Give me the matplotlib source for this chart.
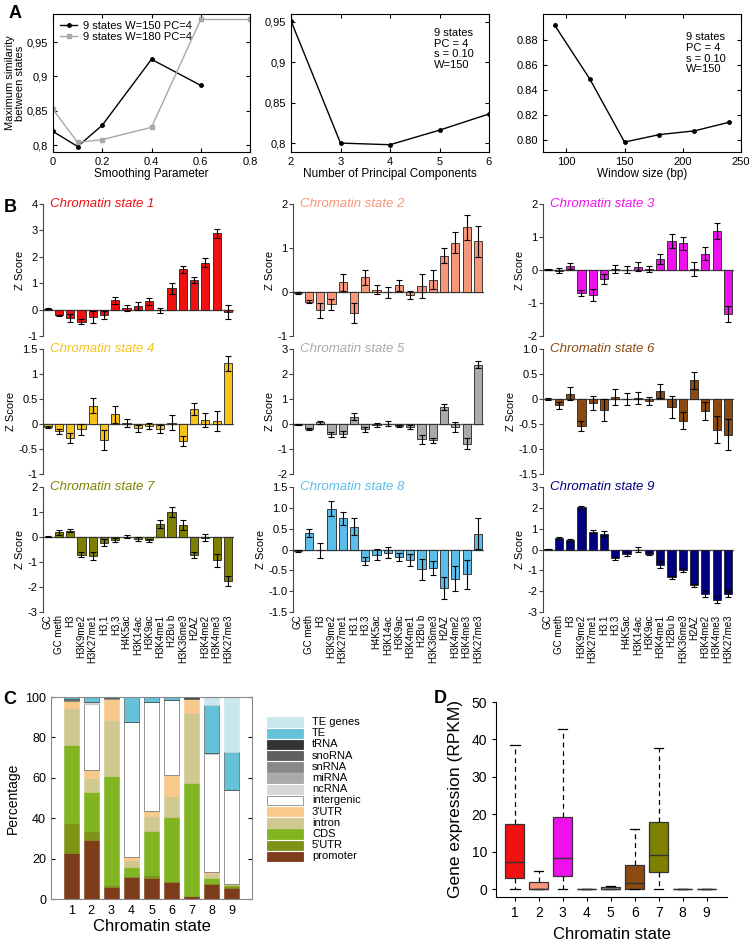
import matplotlib
matplotlib.use("Agg")
import matplotlib.pyplot as plt
from matplotlib.patches import Rectangle
import numpy as np

plt.rcParams['font.family'] = ['Liberation Sans', 'DejaVu Sans']

# ---- panel A data
smooth_x_150 = [0, 0.1, 0.2, 0.4, 0.6]
smooth_y_150 = [0.820, 0.798, 0.829, 0.925, 0.887]
smooth_x_180 = [0, 0.1, 0.2, 0.4, 0.6, 0.8]
smooth_y_180 = [0.852, 0.804, 0.808, 0.826, 0.983, 0.983]
pc_x = [2, 3, 4, 5, 6]
pc_y = [0.951, 0.800, 0.798, 0.816, 0.836]
win_x = [90, 120, 150, 180, 210, 240]
win_y = [0.892, 0.849, 0.798, 0.804, 0.807, 0.814]

# ---- panel B data
marks = ["GC", "GC meth", "H3", "H3K9me2", "H3K27me1", "H3.1", "H3.3", "H4K5ac",
         "H3K14ac", "H3K9ac", "H3K4me1", "H2Bu b", "H3K36me3", "H2AZ",
         "H3K4me2", "H3K4me3", "H3K27me3"]
state_colors = ["#f01010", "#f7977a", "#ee11ee", "#f7c31a", "#aaaaaa",
                "#8a4a12", "#808000", "#5cbde9", "#000080"]
z1 = [0.03, -0.22, -0.31, -0.46, -0.27, -0.2, 0.35, 0.06, 0.13, 0.32, -0.03, 0.8, 1.52, 1.12, 1.77, 2.9, -0.1]
e1 = [0.02, 0.03, 0.15, 0.1, 0.22, 0.15, 0.13, 0.1, 0.14, 0.13, 0.1, 0.22, 0.13, 0.12, 0.17, 0.17, 0.27]
z2 = [-0.02, -0.22, -0.42, -0.28, 0.22, -0.48, 0.33, 0.05, -0.01, 0.15, -0.07, 0.13, 0.28, 0.82, 1.12, 1.47, 1.15]
e2 = [0.02, 0.03, 0.17, 0.12, 0.2, 0.22, 0.17, 0.1, 0.12, 0.12, 0.1, 0.27, 0.22, 0.17, 0.24, 0.28, 0.36]
z3 = [0.02, -0.02, 0.13, -0.7, -0.76, -0.28, 0.02, 0.01, 0.1, 0.03, 0.33, 0.88, 0.81, 0.03, 0.5, 1.18, -1.33]
e3 = [0.02, 0.08, 0.09, 0.1, 0.17, 0.15, 0.12, 0.1, 0.13, 0.1, 0.14, 0.22, 0.19, 0.2, 0.2, 0.25, 0.25]
z4 = [-0.06, -0.14, -0.28, -0.1, 0.37, -0.32, 0.2, 0.02, -0.08, -0.04, -0.09, 0.03, -0.33, 0.31, 0.08, 0.06, 1.22]
e4 = [0.02, 0.05, 0.1, 0.11, 0.15, 0.2, 0.17, 0.08, 0.07, 0.06, 0.08, 0.15, 0.1, 0.12, 0.14, 0.2, 0.15]
z5 = [-0.02, -0.2, 0.07, -0.4, -0.4, 0.3, -0.2, -0.04, 0.01, -0.08, -0.12, -0.6, -0.65, 0.68, -0.11, -0.78, 2.38]
e5 = [0.01, 0.03, 0.07, 0.1, 0.13, 0.15, 0.1, 0.07, 0.1, 0.05, 0.08, 0.18, 0.1, 0.12, 0.2, 0.22, 0.15]
z6 = [0.01, -0.12, 0.11, -0.53, -0.08, -0.22, 0.05, 0.0, 0.03, -0.03, 0.17, -0.15, -0.43, 0.38, -0.24, -0.61, -0.71]
e6 = [0.02, 0.07, 0.13, 0.1, 0.14, 0.22, 0.16, 0.12, 0.12, 0.08, 0.14, 0.22, 0.17, 0.17, 0.18, 0.27, 0.31]
z7 = [0.02, 0.2, 0.26, -0.7, -0.75, -0.22, -0.12, 0.02, -0.07, -0.13, 0.52, 1.0, 0.5, -0.73, -0.02, -0.93, -1.75]
e7 = [0.01, 0.1, 0.07, 0.1, 0.15, 0.13, 0.07, 0.07, 0.08, 0.06, 0.15, 0.2, 0.2, 0.12, 0.15, 0.27, 0.2]
z8 = [-0.04, 0.4, -0.02, 0.98, 0.75, 0.55, -0.27, -0.12, -0.08, -0.18, -0.25, -0.47, -0.44, -0.93, -0.7, -0.59, 0.38]
e8 = [0.02, 0.1, 0.18, 0.18, 0.15, 0.2, 0.09, 0.13, 0.13, 0.1, 0.14, 0.25, 0.17, 0.26, 0.3, 0.35, 0.37]
z9 = [0.02, 0.55, 0.45, 2.02, 0.86, 0.75, -0.43, -0.22, -0.02, -0.2, -0.72, -1.33, -0.97, -1.72, -2.15, -2.4, -2.12]
e9 = [0.01, 0.05, 0.04, 0.09, 0.07, 0.12, 0.05, 0.1, 0.12, 0.08, 0.17, 0.08, 0.1, 0.06, 0.15, 0.15, 0.18]
z_scores = [z1, z2, z3, z4, z5, z6, z7, z8, z9]
z_errors = [e1, e2, e3, e4, e5, e6, e7, e8, e9]
z_ticks = [
    [-1, 0, 1, 2, 3, 4], [-1, 0, 1, 2], [-2, -1, 0, 1, 2],
    [-1, -0.5, 0, 0.5, 1, 1.5], [-2, -1, 0, 1, 2, 3], [-1.5, -1.0, -0.5, 0, 0.5, 1.0],
    [-3, -2, -1, 0, 1, 2], [-1.5, -1.0, -0.5, 0, 0.5, 1.0, 1.5], [-3, -2, -1, 0, 1, 2, 3],
]
z_tick_labels = [
    ["-1", "0", "1", "2", "3", "4"], ["-1", "0", "1", "2"], ["-2", "-1", "0", "1", "2"],
    ["-1", "-0.5", "0", "0.5", "1", "1.5"], ["-2", "-1", "0", "1", "2", "3"],
    ["-1.5", "-1.0", "-0.5", "0", "0.5", "1.0"], ["-3", "-2", "-1", "0", "1", "2"],
    ["-1.5", "-1.0", "-0.5", "0", "0.5", "1.0", "1.5"], ["-3", "-2", "-1", "0", "1", "2", "3"],
]

# ---- panel C data (percent per state 1..9)
feature_names = ["promoter", "5'UTR", "CDS", "intron", "3'UTR", "intergenic", "ncRNA",
                 "miRNA", "snRNA", "snoRNA", "tRNA", "TE", "TE genes"]
feature_colors = ["#7f3c1a", "#7d9316", "#80b521", "#d0c890", "#f7c98b", "#ffffff", "#d8d8d8",
                  "#aaaaaa", "#888888", "#606060", "#333333", "#66c2d8", "#c9e7ec"]
promoter = [22.7, 29.3, 5.8, 10.9, 10.5, 8.4, 1.3, 7.4, 5.4]
utr5 = [15.0, 4.4, 0.9, 0.4, 1.3, 0.5, 0.3, 0.5, 0.9]
cds = [38.3, 19.1, 54.2, 4.3, 21.9, 31.9, 55.6, 2.5, 0.6]
intron = [18.6, 6.9, 27.9, 3.8, 7.6, 10.4, 35.1, 2.4, 0.5]
utr3 = [3.3, 4.4, 10.4, 1.5, 2.1, 10.0, 6.7, 0.4, 0.0]
intergenic = [0.5, 32.6, 0.3, 66.8, 54.0, 37.2, 0.2, 58.7, 46.7]
ncrna = [0.3, 0.8, 0.0, 0.0, 0.0, 0.3, 0.0, 0.3, 0.0]
mirna = [0.0, 0.0, 0.0, 0.0, 0.0, 0.0, 0.0, 0.0, 0.0]
snrna = [0.0, 0.0, 0.0, 0.0, 0.0, 0.0, 0.0, 0.0, 0.0]
snorna = [0.1, 0.0, 0.0, 0.0, 0.0, 0.0, 0.2, 0.0, 0.0]
trna = [0.2, 0.0, 0.2, 0.0, 0.3, 0.0, 0.6, 0.0, 0.0]
te = [1.0, 2.5, 0.3, 12.3, 2.3, 1.3, 0.0, 24.0, 18.8]
te_genes = [0.0, 0.0, 0.0, 0.0, 0.0, 0.0, 0.0, 3.8, 27.1]
feature_values = [promoter, utr5, cds, intron, utr3, intergenic, ncrna,
                  mirna, snrna, snorna, trna, te, te_genes]

# ---- panel D data (box statistics, RPKM)
box_q1 = [3.1, 0.0, 3.4, 0.0, 0.0, 0.1, 4.5, 0.0, 0.0]
box_med = [7.2, 0.1, 8.3, 0.0, 0.1, 1.7, 9.2, 0.0, 0.0]
box_q3 = [17.4, 1.9, 19.2, 0.0, 0.5, 6.4, 17.9, 0.0, 0.0]
box_lo = [0.0, 0.0, 0.0, 0.0, 0.0, 0.0, 0.0, 0.0, 0.0]
box_hi = [38.5, 4.9, 42.8, 0.0, 0.8, 16.0, 37.7, 0.0, 0.0]

states = list(range(1, 10))

fig = plt.figure(figsize=(7.5, 9.42), dpi=100)


def px_axes(left, top, right, bottom):
    return fig.add_axes([left / 750, 1 - bottom / 942, (right - left) / 750, (bottom - top) / 942])


def style_box(ax):
    ax.tick_params(direction="in", top=True, right=True, labelsize=8, length=3)


# ---- A
ax = px_axes(53, 14, 250, 152)
ax.plot(smooth_x_150, smooth_y_150, "-o", color="black", lw=1, ms=2.5, label="9 states W=150 PC=4")
ax.plot(smooth_x_180, smooth_y_180, "-s", color="#a8a8a8", lw=1, ms=2.5, label="9 states W=180 PC=4")
ax.set_xlim(0, 0.8)
ax.set_ylim(0.79, 0.991)
ax.set_xticks([0, 0.2, 0.4, 0.6, 0.8], ["0", "0.2", "0.4", "0.6", "0.8"])
ax.set_yticks([0.8, 0.85, 0.9, 0.95], ["0,8", "0,85", "0,9", "0,95"])
ax.set_xlabel("Smoothing Parameter", fontsize=8.5, labelpad=1)
ax.set_ylabel("Maximum similarity\nbetween states", fontsize=8, labelpad=1, linespacing=1.0)
ax.legend(loc="upper left", fontsize=8, frameon=False, handlelength=1.6,
          borderaxespad=0.2, labelspacing=0.1, handletextpad=0.5)
style_box(ax)

ax = px_axes(291, 14, 489, 152)
ax.plot(pc_x, pc_y, "-o", color="black", lw=1, ms=2.5)
ax.set_xlim(2, 6)
ax.set_ylim(0.789, 0.9595)
ax.set_xticks([2, 3, 4, 5, 6])
ax.set_yticks([0.8, 0.85, 0.9, 0.95], ["0,8", "0,85", "0,9", "0,95"])
ax.set_xlabel("Number of Principal Components", fontsize=8.5, labelpad=1)
ax.text(0.72, 0.9, "9 states\nPC = 4\ns = 0.10\nW=150", transform=ax.transAxes,
        fontsize=8, va="top", linespacing=1.1)
style_box(ax)

ax = px_axes(543, 14, 741, 152)
ax.plot(win_x, win_y, "-o", color="black", lw=1, ms=2.5)
ax.set_xlim(80, 250)
ax.set_ylim(0.79, 0.901)
ax.set_xticks([100, 150, 200, 250])
ax.set_yticks([0.80, 0.82, 0.84, 0.86, 0.88], ["0.80", "0.82", "0.84", "0.86", "0.88"])
ax.set_xlabel("Window size (bp)", fontsize=8.5, labelpad=1)
ax.text(0.72, 0.87, "9 states\nPC = 4\ns = 0.10\nW=150", transform=ax.transAxes,
        fontsize=8, va="top", linespacing=1.1)
style_box(ax)

# ---- B
col_left = [43, 293, 543]
row_px = [(204, 336), (349, 474), (487, 612)]
xpos = np.arange(1, len(marks) + 1)
for i in range(9):
    r, c = divmod(i, 3)
    top, bottom = row_px[r]
    ax = px_axes(col_left[c], top, col_left[c] + 191, bottom)
    ax.bar(xpos, z_scores[i], width=0.72, color=state_colors[i], edgecolor="#222222", lw=0.6,
           yerr=z_errors[i], error_kw=dict(ecolor="black", elinewidth=0.8, capsize=2, capthick=0.8))
    ax.axhline(0, color="#555555", lw=1, zorder=0.5)
    ax.set_xlim(0.58, 17.55)
    ax.set_ylim(z_ticks[i][0], z_ticks[i][-1])
    ax.set_yticks(z_ticks[i], z_tick_labels[i])
    for s in ("top", "right", "bottom"):
        ax.spines[s].set_visible(False)
    ax.spines["left"].set_color("#444444")
    ax.tick_params(axis="y", direction="out", labelsize=8, length=3, pad=1, color="#444444")
    ax.set_ylabel("Z Score", fontsize=8, labelpad=2)
    names = marks if c > 0 else [m.replace("H3.", "H3,") for m in marks]
    if r == 2:
        ax.set_xticks(xpos, names, rotation=90, fontsize=7)
        ax.tick_params(axis="x", length=0, pad=2)
    else:
        ax.set_xticks([])
    ax.text(0.035, 1.0, "Chromatin state %d" % (i + 1), transform=ax.transAxes, fontsize=9.5,
            style="italic", color=state_colors[i], va="center")

# ---- C
ax = px_axes(51, 697, 252, 899)
bottoms = np.zeros(len(states))
for name, color, vals in zip(feature_names, feature_colors, feature_values):
    ax.bar(states, vals, bottom=bottoms, width=0.75, color=color,
           edgecolor="#444444" if name in ("intergenic", "TE") else color, lw=0.4)
    bottoms = bottoms + np.array(vals)
ax.set_xlim(0, 10)
ax.set_ylim(0, 100)
ax.set_xticks(states)
ax.set_yticks([0, 20, 40, 60, 80, 100])
ax.tick_params(axis="y", direction="in", right=True, labelsize=9, length=3)
ax.tick_params(axis="x", length=0, labelsize=9, pad=4)
for s in ax.spines.values():
    s.set_color("#888888")
ax.set_ylabel("Percentage", fontsize=10)
ax.set_xlabel("Chromatin state", fontsize=12, labelpad=2)

# legend of C, drawn as swatches next to the panel
legend_rows = list(zip(feature_names, feature_colors))[::-1]
for k, (name, color) in enumerate(legend_rows):
    yc = 722 + k * 11.2
    fig.add_artist(Rectangle((267 / 750, 1 - (yc + 4.7) / 942), 36 / 750, 9.4 / 942,
                             transform=fig.transFigure, facecolor=color,
                             edgecolor="#888888" if name == "intergenic" else color, lw=0.6))
    fig.text(312 / 750, 1 - yc / 942, name, fontsize=8, va="center")

# ---- D
ax = px_axes(496, 702, 727, 897)
stats = [dict(med=m, q1=a, q3=b, whislo=lo, whishi=hi, fliers=[])
         for m, a, b, lo, hi in zip(box_med, box_q1, box_q3, box_lo, box_hi)]
bp = ax.bxp(stats, positions=states, widths=0.8, patch_artist=True, showfliers=False,
            whiskerprops=dict(linestyle=(0, (4, 3)), color="black", lw=0.9),
            capprops=dict(color="black", lw=0.9),
            medianprops=dict(color="#333333", lw=1),
            boxprops=dict(edgecolor="#333333", lw=0.9))
for patch, col in zip(bp["boxes"], state_colors):
    patch.set_facecolor(col)
ax.set_xlim(0.22, 9.85)
ax.set_ylim(-2.1, 50)
ax.set_yticks([0, 10, 20, 30, 40, 50])
ax.set_xticks(states, [str(s) for s in states])
ax.spines["top"].set_visible(False)
ax.spines["right"].set_visible(False)
ax.tick_params(labelsize=10, direction="out", length=3)
ax.set_ylabel("Gene expression (RPKM)", fontsize=12.5, labelpad=6)
ax.set_xlabel("Chromatin state", fontsize=12, labelpad=5)

# panel letters
for letter, x, y in [("A", 0.012, 0.995), ("B", 0.005, 0.789), ("C", 0.005, 0.266), ("D", 0.578, 0.268)]:
    fig.text(x, y, letter, fontsize=13, fontweight="bold", va="top")

fig.savefig("out.png", dpi=100)
